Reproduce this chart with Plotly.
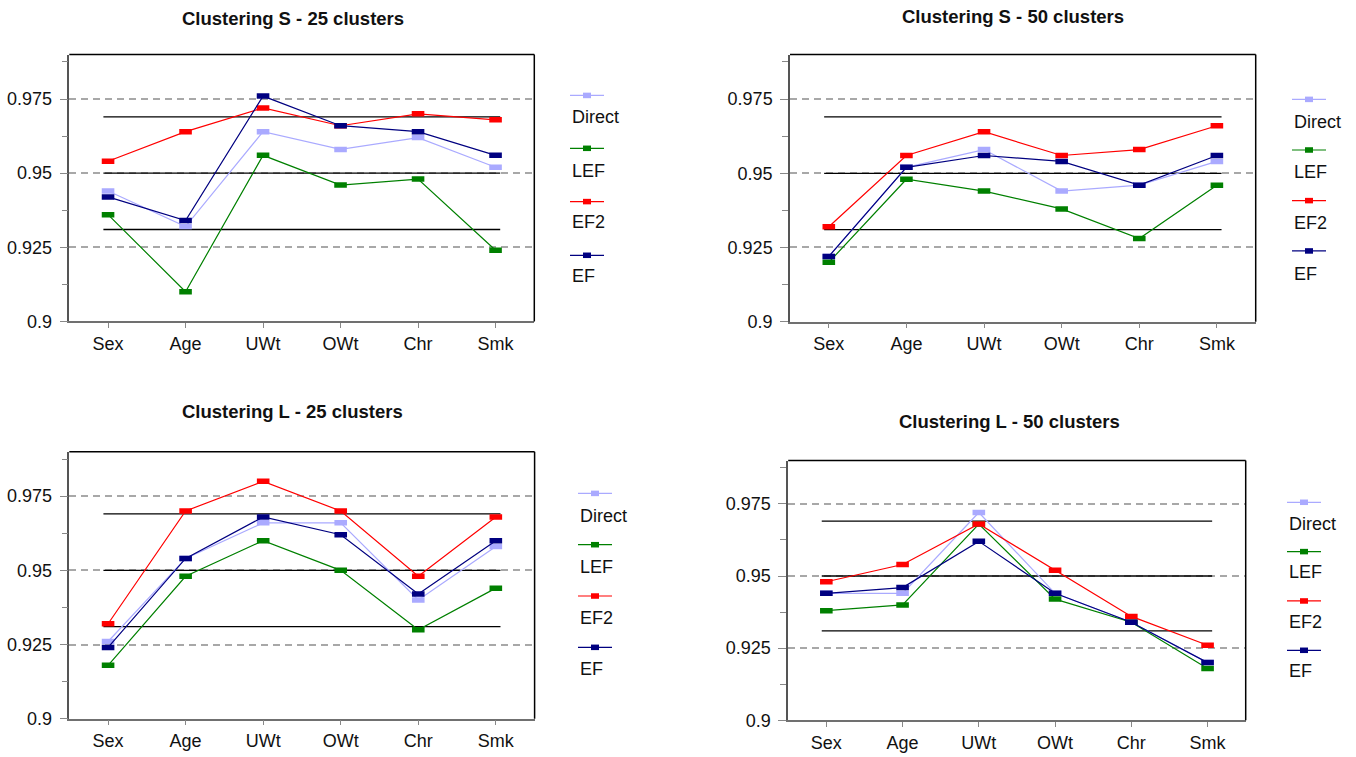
import plotly.graph_objects as go

# ---- data -------------------------------------------------------------
categories = ["Sex", "Age", "UWt", "OWt", "Chr", "Smk"]
series_names = ["Direct", "LEF", "EF2", "EF"]
series_colors = ["#aaaaff", "#008000", "#ff0000", "#000080"]

titles = [
    "Clustering S - 25 clusters",
    "Clustering S - 50 clusters",
    "Clustering L - 25 clusters",
    "Clustering L - 50 clusters",
]

s25_direct = [0.944, 0.932, 0.964, 0.958, 0.962, 0.952]
s25_lef = [0.936, 0.910, 0.956, 0.946, 0.948, 0.924]
s25_ef2 = [0.954, 0.964, 0.972, 0.966, 0.970, 0.968]
s25_ef = [0.942, 0.934, 0.976, 0.966, 0.964, 0.956]

s50_direct = [0.922, 0.952, 0.958, 0.944, 0.946, 0.954]
s50_lef = [0.920, 0.948, 0.944, 0.938, 0.928, 0.946]
s50_ef2 = [0.932, 0.956, 0.964, 0.956, 0.958, 0.966]
s50_ef = [0.922, 0.952, 0.956, 0.954, 0.946, 0.956]

l25_direct = [0.926, 0.954, 0.966, 0.966, 0.940, 0.958]
l25_lef = [0.918, 0.948, 0.960, 0.950, 0.930, 0.944]
l25_ef2 = [0.932, 0.970, 0.980, 0.970, 0.948, 0.968]
l25_ef = [0.924, 0.954, 0.968, 0.962, 0.942, 0.960]

l50_direct = [0.944, 0.944, 0.972, 0.944, 0.934, 0.920]
l50_lef = [0.938, 0.940, 0.968, 0.942, 0.934, 0.918]
l50_ef2 = [0.948, 0.954, 0.968, 0.952, 0.936, 0.926]
l50_ef = [0.944, 0.946, 0.962, 0.944, 0.934, 0.920]

# nominal level and its acceptance band
reference_levels = [0.969, 0.950, 0.931]

y_ticks = [0.9, 0.925, 0.95, 0.975]
y_tick_text = ["0.9", "0.925", "0.95", "0.975"]
y_range = [0.9, 0.99]

panel_series = [
    [s25_direct, s25_lef, s25_ef2, s25_ef],
    [s50_direct, s50_lef, s50_ef2, s50_ef],
    [l25_direct, l25_lef, l25_ef2, l25_ef],
    [l50_direct, l50_lef, l50_ef2, l50_ef],
]

# ---- layout geometry (pixels) -----------------------------------------
W, H = 1356, 757
# plot frames: (left, right, top, bottom)
frames = [
    (69.3, 534.3, 55.3, 325.7),
    (790.0, 1255.7, 55.3, 326.0),
    (69.3, 534.6, 457.7, 728.3),
    (788.2, 1245.7, 466.7, 730.0),
]
title_pos = [(293, 18.3), (1013, 16.7), (292.5, 416.7), (1009.3, 426.7)]
# legend: x of glyph start, glyph row y's, text row y's
legend_x = [570, 1292, 578, 1287]
legend_line_y = [
    [96.7, 150.3, 204.3, 258.7],
    [100.7, 152.0, 203.3, 254.3],
    [500.0, 552.0, 604.0, 656.0],
    [509.0, 559.0, 609.0, 659.0],
]
legend_text_y = [
    [118.3, 173.3, 225.0, 280.0],
    [123.3, 174.3, 226.0, 277.3],
    [523.0, 575.0, 626.0, 678.0],
    [531.0, 580.0, 630.0, 680.0],
]

FONT = "Liberation Sans, Arial, sans-serif"


def px(x):
    return x / W


def py(y):
    return 1 - y / H


fig = go.Figure()
shapes = []
annotations = []
layout = {}

for p in range(4):
    n = p + 1
    xa = "x" if n == 1 else f"x{n}"
    ya = "y" if n == 1 else f"y{n}"
    left, right, top, bottom = frames[p]
    xdom = [px(left), px(right)]
    ydom = [py(bottom), py(top)]
    xs = list(range(len(categories)))

    # reference band lines
    for lvl in reference_levels:
        fig.add_trace(go.Scatter(
            x=[-0.06, len(categories) - 1 + 0.06], y=[lvl, lvl],
            mode="lines", line=dict(color="black", width=1.3),
            xaxis=xa, yaxis=ya, showlegend=False, hoverinfo="skip",
        ))

    # method series
    for name, color, vals in zip(series_names, series_colors, panel_series[p]):
        fig.add_trace(go.Scatter(
            x=xs, y=vals, name=name, mode="lines+markers",
            line=dict(color=color, width=1.2),
            marker=dict(symbol="line-ew-open", size=9,
                        line=dict(color=color, width=5.5)),
            xaxis=xa, yaxis=ya, showlegend=False,
        ))

    # main axes
    layout[f"xaxis{'' if n == 1 else n}"] = dict(
        domain=xdom, anchor=ya, range=[-0.5, len(categories) - 0.5],
        tickmode="array", tickvals=xs, ticktext=categories,
        ticks="outside", ticklen=5, tickcolor="#888888", tickwidth=1.2,
        showline=True, linecolor="#707070", linewidth=1.5,
        showgrid=False, zeroline=False,
        tickfont=dict(family=FONT, size=18, color="#111111"),
    )
    layout[f"yaxis{'' if n == 1 else n}"] = dict(
        domain=ydom, anchor=xa, range=y_range,
        tickmode="array", tickvals=y_ticks, ticktext=y_tick_text,
        ticks="outside", ticklen=8, tickcolor="#888888", tickwidth=1.2,
        minor=dict(tickmode="array", tickvals=[0.9125, 0.9375, 0.9625, 0.9875],
                   ticks="outside", ticklen=6, tickcolor="#888888", tickwidth=1.2,
                   showgrid=False),
        showline=True, linecolor="#555555", linewidth=1.5,
        showgrid=True, gridcolor="#a8a8a8", gridwidth=1.5, griddash="7px,5px",
        zeroline=False, ticklabelstandoff=4,
        tickfont=dict(family=FONT, size=18, color="#111111"),
    )
    # overlay axes giving the inward half of the crossing ticks
    ox, oy = f"x{n + 4}", f"y{n + 4}"
    layout[f"xaxis{n + 4}"] = dict(
        domain=xdom, anchor=ya, overlaying=xa, range=[-0.5, len(categories) - 0.5],
        tickmode="array", tickvals=xs, ticks="inside", ticklen=5,
        tickcolor="#888888", tickwidth=1.2, showticklabels=False,
        showline=False, showgrid=False, zeroline=False,
    )
    layout[f"yaxis{n + 4}"] = dict(
        domain=ydom, anchor=xa, overlaying=ya, range=y_range,
        tickmode="array", tickvals=[0.9, 0.9125, 0.925, 0.9375, 0.95,
                                    0.9625, 0.975, 0.9875],
        ticks="inside", ticklen=6, tickcolor="#888888", tickwidth=1.2,
        showticklabels=False, showline=False, showgrid=False, zeroline=False,
    )

    # black top/right frame edges
    shapes.append(dict(type="line", xref="paper", yref="paper",
                       x0=px(left), x1=px(right), y0=py(top), y1=py(top),
                       line=dict(color="black", width=1.5)))
    shapes.append(dict(type="line", xref="paper", yref="paper",
                       x0=px(right), x1=px(right), y0=py(top), y1=py(bottom),
                       line=dict(color="black", width=1.5)))

    # title
    tx, ty = title_pos[p]
    annotations.append(dict(
        text=f"<b>{titles[p]}</b>", x=px(tx), y=py(ty), xref="paper", yref="paper",
        xanchor="center", yanchor="middle", showarrow=False,
        font=dict(family=FONT, size=18.5, color="#111111"),
    ))

    # legend (glyph row above each label)
    lx = legend_x[p]
    for k, (name, color) in enumerate(zip(series_names, series_colors)):
        gy = legend_line_y[p][k]
        shapes.append(dict(type="line", xref="paper", yref="paper",
                           x0=px(lx), x1=px(lx + 34), y0=py(gy), y1=py(gy),
                           line=dict(color=color, width=1.2)))
        shapes.append(dict(type="rect", xref="paper", yref="paper",
                           x0=px(lx + 13), x1=px(lx + 21),
                           y0=py(gy + 2.8), y1=py(gy - 2.8),
                           line=dict(width=0), fillcolor=color))
        annotations.append(dict(
            text=name, x=px(lx), y=py(legend_text_y[p][k]),
            xref="paper", yref="paper", xanchor="left", yanchor="middle",
            showarrow=False, font=dict(family=FONT, size=18, color="#111111"),
        ))

fig.update_layout(
    width=W, height=H,
    margin=dict(l=0, r=0, t=0, b=0),
    paper_bgcolor="white", plot_bgcolor="white",
    showlegend=False,
    shapes=shapes, annotations=annotations,
    **layout,
)

fig.write_html("out.html")
